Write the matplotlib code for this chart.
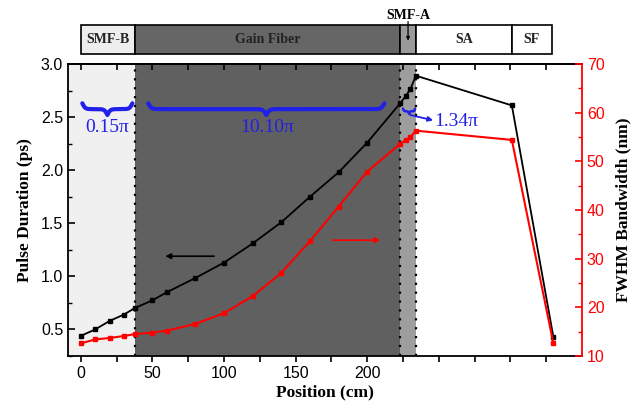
import numpy as np
import matplotlib
matplotlib.use("Agg")
import matplotlib.pyplot as plt
from matplotlib.patches import Rectangle
import matplotlib.transforms as mtransforms

# ---- data ----
position = [0, 10, 20, 30, 37.5, 50, 60, 80, 100, 120, 140, 160, 180, 200,
            223, 227, 230, 234, 301, 330]
pulse_ps = [0.44, 0.50, 0.58, 0.64, 0.70, 0.775, 0.85, 0.985, 1.13, 1.31,
            1.51, 1.75, 1.98, 2.26, 2.63, 2.70, 2.76, 2.89, 2.61, 0.43]
bandwidth_nm = [12.6, 13.4, 13.7, 14.1, 14.5, 14.8, 15.2, 16.6, 18.8, 22.3,
                27.1, 33.6, 40.7, 47.9, 53.6, 54.4, 54.9, 56.3, 54.4, 12.6]

segments = ["SMF-B", "Gain Fiber", "SMF-A", "SA", "SF"]
seg_start = [0, 37.5, 223, 234, 301]
seg_end = [37.5, 223, 234, 301, 329]
seg_colors = ["#eeeeee", "#666666", "#9a9a9a", "#ffffff", "#ffffff"]

phase_labels = ["0.15\u03c0", "10.10\u03c0", "1.34\u03c0"]

x_ticks = [0, 25, 50, 75, 100, 125, 150, 175, 200, 225, 250, 275, 300, 325]
x_ticklabels = ["0", "", "50", "", "100", "", "150", "", "200", "", "", "", "", ""]

serif = "Liberation Serif"
sans = "Liberation Sans"

fig = plt.figure(figsize=(6.42, 4.09), dpi=100)
ax = fig.add_axes([68/642, 53/409, 514/642, 292/409])
ax2 = ax.twinx()

ax.set_xlim(-9, 350)
ax.set_ylim(0.25, 3.0)
ax2.set_ylim(10, 70)

# background regions
ax.axvspan(-9, 37.5, color="#f0f0f0", zorder=0, lw=0)
ax.axvspan(37.5, 223, color="#606060", zorder=0, lw=0)
ax.axvspan(223, 234, color="#9e9e9e", zorder=0, lw=0)
for xb in [37.5, 223, 234]:
    ax.axvline(xb, color="black", ls=(0, (1, 3)), lw=1.6, zorder=1)

# data
ax.plot(position, pulse_ps, color="black", lw=1.3, marker="s", ms=2.6, zorder=3)
ax2.plot(position, bandwidth_nm, color="red", lw=1.5, marker="s", ms=2.6, zorder=3)

# arrows
ax.annotate("", xy=(57, 1.19), xytext=(95, 1.19),
            arrowprops=dict(arrowstyle="-|>", color="black", lw=1.2, mutation_scale=8))
ax2.annotate("", xy=(211, 33.8), xytext=(174, 33.8),
             arrowprops=dict(arrowstyle="-|>", color="red", lw=1.2, mutation_scale=8))

# braces
def brace(axis, x1, x2, ytop, h, beta, color="#1f1fe0", lw=2.6):
    n = 401
    x = np.linspace(x1, x2, n)
    xh = x[: n // 2 + 1]
    yh = 1 / (1 + np.exp(-beta * (xh - xh[0]))) + 1 / (1 + np.exp(-beta * (xh - xh[-1])))
    yy = np.concatenate((yh, yh[-2::-1]))
    yy = ytop - h * (yy - 0.5)
    axis.plot(x, yy, color=color, lw=lw, solid_capstyle="round", zorder=4)

blue = "#2020e8"
brace(ax, 1, 36, 2.63, 0.11, 1.0, blue, lw=3.0)
brace(ax, 47, 212, 2.63, 0.11, 0.9, blue, lw=3.0)
brace(ax, 225, 233.5, 2.58, 0.05, 3.0, blue, lw=1.8)
ax.text(18.5, 2.40, phase_labels[0], color=blue, fontsize=14, family=serif,
        ha="center", va="center", zorder=5)
ax.text(130, 2.40, phase_labels[1], color=blue, fontsize=14, family=serif,
        ha="center", va="center", zorder=5)
ax.text(246.5, 2.455, phase_labels[2], color=blue, fontsize=14, family=serif,
        ha="left", va="center", zorder=5)
ax.annotate("", xy=(246, 2.47), xytext=(230, 2.52),
            arrowprops=dict(arrowstyle="-|>", color=blue, lw=1.3, mutation_scale=7,
                            shrinkA=0, shrinkB=0), zorder=5)

# ticks
ax.set_xticks(x_ticks)
ax.set_xticklabels(x_ticklabels)
ax.set_yticks([0.5, 1.0, 1.5, 2.0, 2.5, 3.0])
ax.set_yticks(np.arange(0.25, 3.0, 0.25), minor=True)
ax2.set_yticks([10, 20, 30, 40, 50, 60, 70])
ax2.set_yticks(np.arange(15, 70, 10), minor=True)

ax.tick_params(axis="x", which="both", direction="out", top=False, length=4, width=1.2,
               labelsize=11.5, pad=3)
ax.tick_params(axis="y", which="major", direction="in", length=5, width=1.2, labelsize=11.5)
ax.tick_params(axis="y", which="minor", direction="in", length=3, width=1.0)
ax2.tick_params(axis="y", which="major", direction="in", length=5, width=1.2,
                colors="red", labelsize=11.5)
ax2.tick_params(axis="y", which="minor", direction="in", length=3, width=1.0, colors="red")

# top ticks (inward)
secx = ax.secondary_xaxis("top")
secx.set_xticks(x_ticks)
secx.set_xticklabels([])
secx.tick_params(direction="in", length=4, width=1.2)

for lab in ax.get_xticklabels() + ax.get_yticklabels() + ax2.get_yticklabels():
    lab.set_family(sans)

for sp in ["left", "bottom", "top"]:
    ax.spines[sp].set_linewidth(1.3)
ax.spines["right"].set_visible(False)
ax2.spines["right"].set_color("red")
ax2.spines["right"].set_linewidth(1.3)
for sp in ["left", "bottom", "top"]:
    ax2.spines[sp].set_visible(False)
secx.spines["top"].set_linewidth(1.3)

ax.set_xlabel("Position (cm)", fontsize=12.5, fontweight="bold", family=serif, labelpad=3)
ax.set_ylabel("Pulse Duration (ps)", fontsize=12.5, fontweight="bold", family=serif, labelpad=6)
ax2.set_ylabel("FWHM Bandwidth (nm)", fontsize=12.5, fontweight="bold", family=serif,
               color="black", labelpad=8)

# top fiber bar
trans = mtransforms.blended_transform_factory(ax.transData, ax.transAxes)
yb, hb = 1.034, 0.10
for name, s, e, c in zip(segments, seg_start, seg_end, seg_colors):
    ax.add_patch(Rectangle((s, yb), e - s, hb, transform=trans, facecolor=c,
                           edgecolor="black", lw=1.2, clip_on=False, zorder=6))
    if name != "SMF-A":
        ax.text((s + e) / 2, yb + hb / 2, name, transform=trans, ha="center", va="center",
                fontsize=10, fontweight="bold", family=serif,
                color="#222222", clip_on=False, zorder=7)
ax.text(228.5, 1.165, "SMF-A", transform=trans, ha="center", va="center", fontsize=10,
        fontweight="bold", family=serif, clip_on=False, zorder=7)
ax.annotate("", xy=(228.5, 1.08), xytext=(228.5, 1.145), xycoords=trans, textcoords=trans,
            arrowprops=dict(arrowstyle="-|>", color="black", lw=0.9, mutation_scale=5,
                            shrinkA=0, shrinkB=0), zorder=8)

fig.savefig("out.png", dpi=100)
